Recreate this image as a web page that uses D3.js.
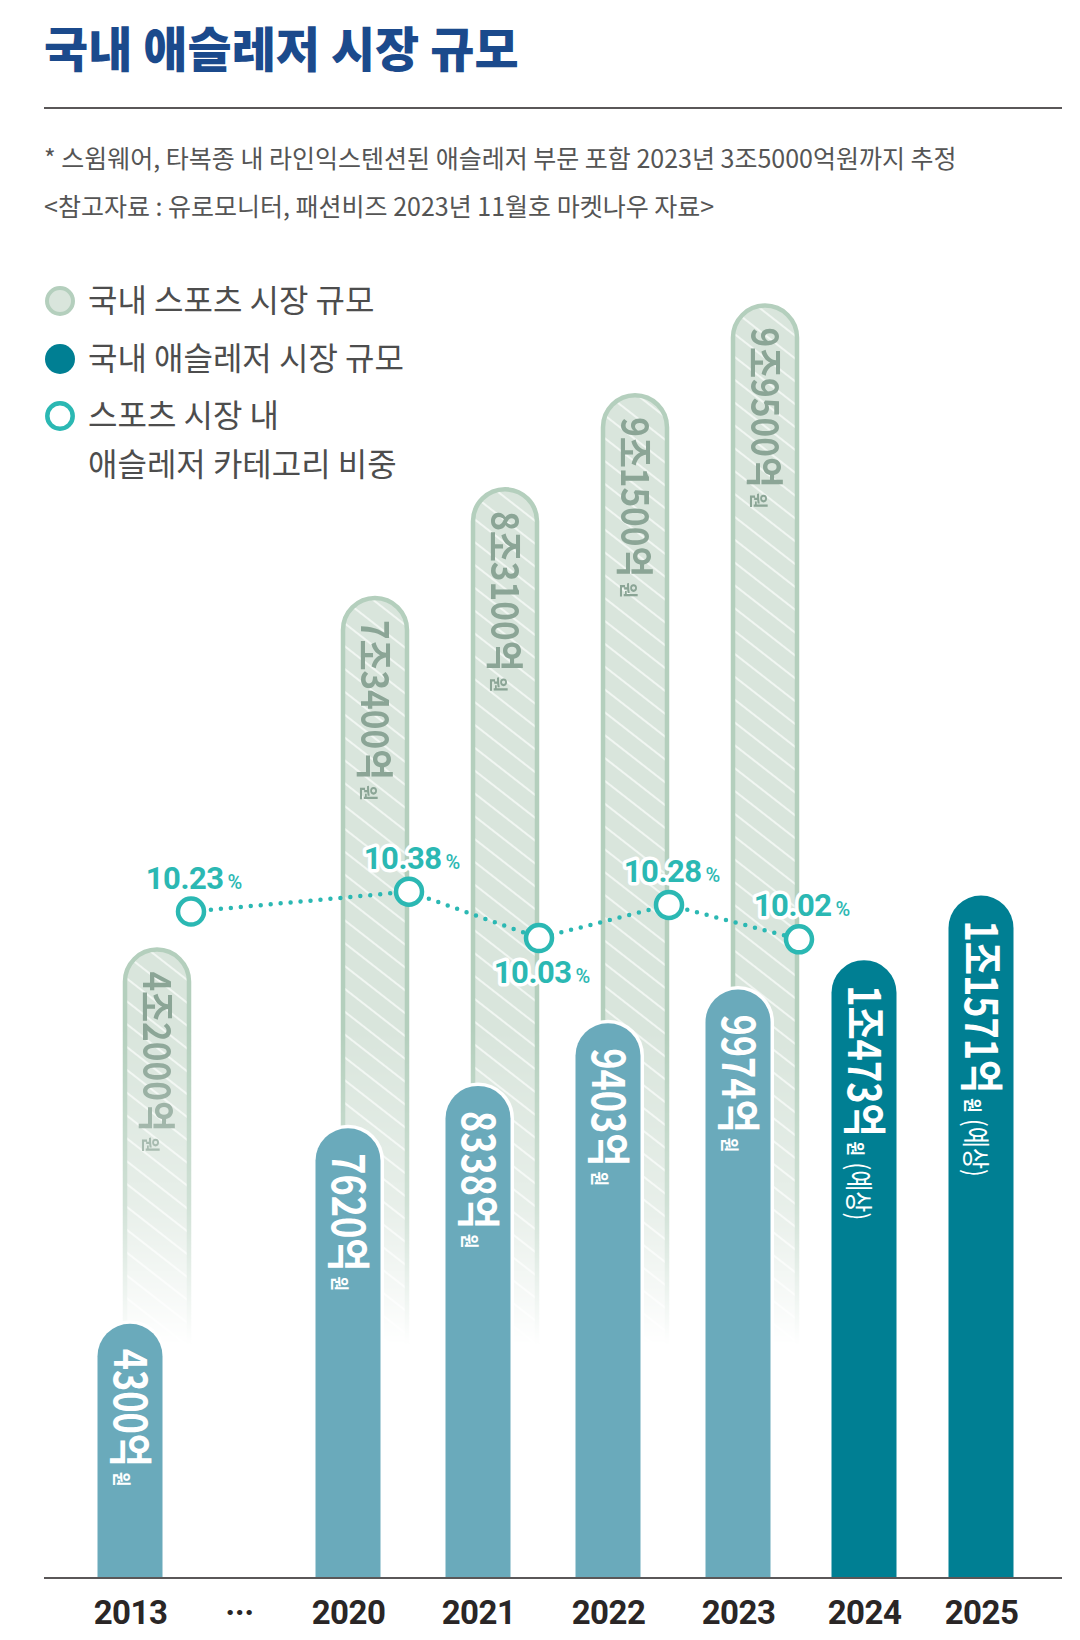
<!DOCTYPE html>
<html>
<head>
<meta charset="utf-8">
<script src="https://cdn.jsdelivr.net/npm/d3@7"></script>
<style>
  body { margin: 0; background: #fff; }
  svg { display: block; }
</style>
</head>
<body>
<script>
// 데이터 (단위: 억원)
const years = [2013, 2020, 2021, 2022, 2023, 2024, 2025];
const gapTick = 2016.5; // 2013과 2020 사이 "···"
const athleisure = [4300, 7620, 8338, 9403, 9974, 10473, 11571];
const forecast = [false, false, false, false, false, true, true];
const sportsYears = [2013, 2020, 2021, 2022, 2023];
const sports = [42000, 73400, 83100, 91500, 99500];
const shares = [10.23, 10.38, 10.03, 10.28, 10.02];

const title = "국내 애슬레저 시장 규모";
const notes = [
  "* 스윔웨어, 타복종 내 라인익스텐션된 애슬레저 부문 포함 2023년 3조5000억원까지 추정",
  "<참고자료 : 유로모니터, 패션비즈 2023년 11월호 마켓나우 자료>"
];
const legendItems = ["국내 스포츠 시장 규모", "국내 애슬레저 시장 규모", "스포츠 시장 내", "애슬레저 카테고리 비중"];

// 크기, 색
const width = 1080, height = 1640;
const baseY = 1577;
const kr = "'Noto Sans CJK KR', 'Noto Sans', sans-serif";
const num = "Roboto, 'Noto Sans', sans-serif";
const teal = "#2bb8b3";

const fmt = v => v >= 10000 ? `${Math.floor(v / 10000)}조${v % 10000}억` : `${v}억`;

const svg = d3.select("body").append("svg")
  .attr("width", width)
  .attr("height", height);

const defs = svg.append("defs");

// 빗금 패턴
const pat = defs.append("pattern")
  .attr("id", "hatch")
  .attr("patternUnits", "userSpaceOnUse")
  .attr("width", 18).attr("height", 18)
  .attr("patternTransform", "rotate(-52)");
pat.append("rect").attr("width", 18).attr("height", 18).attr("fill", "#d9e5dc");
pat.append("line")
  .attr("x1", 9).attr("y1", 0).attr("x2", 9).attr("y2", 18)
  .attr("stroke", "#fff").attr("stroke-width", 1.5).attr("opacity", 0.85);

// 아래쪽으로 사라지는 마스크
const grad = defs.append("linearGradient")
  .attr("id", "fade")
  .attr("gradientUnits", "userSpaceOnUse")
  .attr("x1", 0).attr("x2", 0).attr("y1", 1030).attr("y2", 1345);
grad.append("stop").attr("offset", 0).attr("stop-color", "#fff");
grad.append("stop").attr("offset", 0.55).attr("stop-color", "#a0a0a0");
grad.append("stop").attr("offset", 1).attr("stop-color", "#000");
defs.append("mask")
  .attr("id", "fadeMask")
  .attr("maskUnits", "userSpaceOnUse")
  .attr("x", 0).attr("y", 0).attr("width", width).attr("height", height)
  .append("rect")
  .attr("width", width).attr("height", height)
  .attr("fill", "url(#fade)");

// 제목
svg.append("text")
  .attr("x", 44).attr("y", 67)
  .attr("font-family", kr).attr("font-weight", 900).attr("font-size", 48)
  .attr("fill", "#1b4a8c")
  .text(title);

svg.append("line")
  .attr("x1", 44).attr("x2", 1062).attr("y1", 108).attr("y2", 108)
  .attr("stroke", "#231f20").attr("stroke-width", 1.5);

svg.append("g")
  .selectAll("text")
  .data(notes)
  .join("text")
  .attr("x", 44).attr("y", (d, i) => 168 + i * 48)
  .attr("font-family", kr).attr("font-size", 25)
  .attr("fill", "#555")
  .text(d => d);

// 범례
const legend = svg.append("g");
legend.append("circle").attr("cx", 60).attr("cy", 301).attr("r", 13)
  .attr("fill", "#d9e5dc").attr("stroke", "#b4cfbd").attr("stroke-width", 4);
legend.append("circle").attr("cx", 60).attr("cy", 359).attr("r", 15)
  .attr("fill", "#007f93");
legend.append("circle").attr("cx", 60).attr("cy", 416).attr("r", 12.7)
  .attr("fill", "#fff").attr("stroke", teal).attr("stroke-width", 4.5);
legend.selectAll("text")
  .data(legendItems)
  .join("text")
  .attr("x", 88)
  .attr("y", (d, i) => [312, 370, 427, 476][i])
  .attr("font-family", kr).attr("font-size", 32)
  .attr("fill", "#4d4d4d")
  .text(d => d);

// 스케일 (2013~2020 구간은 줄여서 표시)
const x = d3.scaleLinear()
  .domain([2013, 2020, 2023, 2024, 2025])
  .range([130, 348, 738, 864, 981]);

const yA = d3.scaleLinear()
  .domain([0, 12000])
  .range([baseY, baseY - 12000 * 0.0589]);

const yS = d3.scaleLinear()
  .domain([0, 100000])
  .range([1418, 298]);

const yP = d3.scaleLinear()
  .domain([10, 10.4])
  .range([942, 889]);

const barW = 65;
const sportsW = 64;
const sportsShift = 27;

const barPath = (cx, w, top, bottom) => {
  const r = w / 2;
  return `M${cx - r},${bottom}V${top + r}A${r},${r} 0 0 1 ${cx + r},${top + r}V${bottom}Z`;
};

// 세로 글씨
function vlabel(g, cx, top, value, o) {
  const t = g.append("text")
    .attr("transform", `translate(${cx},${top + o.pad}) rotate(90) scale(${o.sx},1)`)
    .attr("y", o.size * 0.37)
    .attr("font-family", kr)
    .attr("fill", o.color);
  t.append("tspan").attr("font-weight", 700).attr("font-size", o.size).text(fmt(value));
  t.append("tspan").attr("font-weight", 700).attr("font-size", o.small).attr("dx", 6).text("원");
  if (o.forecast) {
    t.append("tspan").attr("font-weight", 400).attr("font-size", 28).attr("dx", 8).text("(예상)");
  }
}

// 스포츠 시장 막대
const sportsG = svg.append("g").attr("mask", "url(#fadeMask)");
sportsG.selectAll("path")
  .data(sports)
  .join("path")
  .attr("d", (d, i) => barPath(x(sportsYears[i]) + sportsShift, sportsW, yS(d) + 2, baseY))
  .attr("fill", "url(#hatch)")
  .attr("stroke", "#b4cfbd")
  .attr("stroke-width", 4.5);
sports.forEach((d, i) => {
  vlabel(sportsG, x(sportsYears[i]) + sportsShift, yS(d), d,
    { pad: 24, sx: 0.88, size: 38, small: 19, color: "#8ba596" });
});

// 애슬레저 시장 막대
const athG = svg.append("g");
athG.selectAll("path")
  .data(athleisure)
  .join("path")
  .attr("d", (d, i) => barPath(x(years[i]), barW, yA(d), baseY))
  .attr("fill", (d, i) => forecast[i] ? "#007f93" : "#6aaabb")
  .attr("stroke", "#fff")
  .attr("stroke-width", 7)
  .attr("paint-order", "stroke");
athleisure.forEach((d, i) => {
  vlabel(athG, x(years[i]), yA(d), d,
    { pad: 25, sx: 0.82, size: 44, small: 19, color: "#fff", forecast: forecast[i] });
});

// 기준선
svg.append("line")
  .attr("x1", 44).attr("x2", 1062).attr("y1", baseY + 1).attr("y2", baseY + 1)
  .attr("stroke", "#231f20").attr("stroke-width", 1.5);

// x축
svg.append("g")
  .attr("transform", `translate(0,${baseY})`)
  .call(d3.axisBottom(x)
    .tickValues([years[0], gapTick, ...years.slice(1)])
    .tickFormat(d => d === gapTick ? "···" : d3.format("d")(d))
    .tickSize(0).tickPadding(0))
  .call(g => g.select(".domain").remove())
  .selectAll("text")
  .attr("dy", null)
  .attr("y", 47)
  .attr("font-family", num)
  .attr("font-weight", 700)
  .attr("font-size", 33)
  .attr("letter-spacing", -0.5)
  .attr("fill", "#2a2626");

// 비중 꺾은선
const pts = shares.map((d, i) => [x(sportsYears[i]) + sportsShift + sportsW / 2 + 2, yP(d)]);
svg.append("path")
  .attr("d", d3.line()(pts))
  .attr("fill", "none")
  .attr("stroke", teal)
  .attr("stroke-width", 4.5)
  .attr("stroke-linecap", "round")
  .attr("stroke-dasharray", "0 10");

svg.append("g")
  .selectAll("circle")
  .data(pts)
  .join("circle")
  .attr("cx", d => d[0]).attr("cy", d => d[1])
  .attr("r", 13)
  .attr("fill", "#fff")
  .attr("stroke", teal)
  .attr("stroke-width", 4.5);

const below = (i) => i > 0 && i < shares.length - 1 && shares[i] < shares[i - 1] && shares[i] < shares[i + 1];

const pl = svg.append("g")
  .selectAll("text")
  .data(shares)
  .join("text")
  .attr("x", (d, i) => pts[i][0] + 3)
  .attr("y", (d, i) => below(i) ? pts[i][1] + 45 : pts[i][1] - 23)
  .attr("text-anchor", "middle")
  .attr("font-family", num)
  .attr("fill", teal)
  .attr("stroke", "#fff")
  .attr("stroke-width", 7)
  .attr("stroke-linejoin", "round")
  .attr("paint-order", "stroke");
pl.append("tspan").attr("font-weight", 700).attr("font-size", 31).attr("letter-spacing", -0.5)
  .text(d => d.toFixed(2));
pl.append("tspan").attr("font-weight", 500).attr("font-size", 20).attr("dx", 4).text("%");
</script>
</body>
</html>
